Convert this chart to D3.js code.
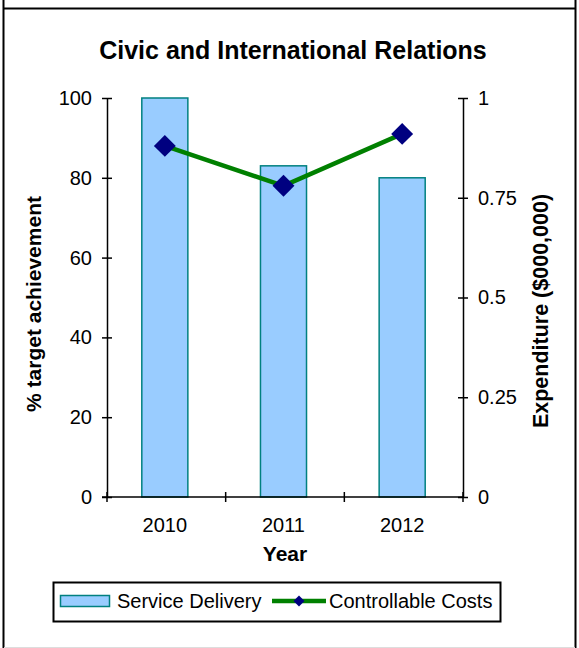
<!DOCTYPE html>
<html>
<head>
<meta charset="utf-8">
<script src="https://cdn.jsdelivr.net/npm/d3@7"></script>
<style>
  body { margin: 0; background: #fff; }
  text { font-family: "Liberation Sans", Arial, sans-serif; fill: #000; }
</style>
</head>
<body>
<div class="graph"></div>
<script>
// data
const years = ["2010", "2011", "2012"];
const serviceDelivery = [100, 83, 80];
const controllableCosts = [0.88, 0.78, 0.91];
const leftTicks = [0, 20, 40, 60, 80, 100];
const rightTicks = [0, 0.25, 0.5, 0.75, 1];

const SIZE = {X: 579, Y: 648};
const PLOT = {LEFT: 107, RIGHT: 463, TOP: 98, BOTTOM: 497};

const svg = d3.select(".graph").append("svg")
    .attr("width", SIZE.X)
    .attr("height", SIZE.Y);

// outer frame (bottom edge is cut off in the original, just a faint line)
const frame = svg.append("g").attr("stroke", "#000").attr("stroke-width", 2);
frame.append("line").attr("x1", 3.5).attr("x2", 3.5).attr("y1", 0).attr("y2", 648);
frame.append("line").attr("x1", 575.5).attr("x2", 575.5).attr("y1", 0).attr("y2", 648);
frame.append("line").attr("x1", 3.5).attr("x2", 575.5).attr("y1", 8.5).attr("y2", 8.5);
svg.append("line")
    .attr("x1", 4).attr("x2", 575).attr("y1", 647.5).attr("y2", 647.5)
    .attr("stroke", "#ddd").attr("stroke-width", 1);

// scales
const x = d3.scaleBand()
    .domain(years)
    .range([PLOT.LEFT - 1.5, PLOT.RIGHT - 1.5])
    .paddingInner(0.612)
    .paddingOuter(0.306);

const y = d3.scaleLinear().domain([0, 100]).range([PLOT.BOTTOM, PLOT.TOP]);
const y2 = d3.scaleLinear().domain([0, 1]).range([PLOT.BOTTOM, PLOT.TOP]);

// bars
svg.selectAll("rect.bar")
    .data(serviceDelivery)
    .enter()
    .append("rect")
    .attr("class", "bar")
    .attr("x", (d, i) => x(years[i]))
    .attr("y", d => y(d))
    .attr("width", x.bandwidth())
    .attr("height", d => y(0) - y(d))
    .attr("fill", "#99ccff")
    .attr("stroke", "#008080")
    .attr("stroke-width", 1.5);

// axes
const tickStyle = g => {
    g.select(".domain").attr("stroke", "#000").attr("stroke-width", 1.5);
    g.selectAll(".tick line").attr("stroke", "#000").attr("stroke-width", 1.5);
    g.selectAll(".tick text")
        .attr("font-size", 20)
        .attr("font-family", "Liberation Sans, Arial, sans-serif")
        .attr("fill", "#000");
};

const yAxis = svg.append("g")
    .attr("transform", `translate(${PLOT.LEFT},0)`)
    .call(d3.axisLeft(y).tickValues(leftTicks).tickSizeInner(5).tickSizeOuter(0).tickPadding(10))
    .call(tickStyle);
yAxis.selectAll(".tick line").attr("x1", 5).attr("x2", -5);

const y2Axis = svg.append("g")
    .attr("transform", `translate(${PLOT.RIGHT},0)`)
    .call(d3.axisRight(y2).tickValues(rightTicks).tickFormat(d => String(d)).tickSizeInner(5).tickSizeOuter(0).tickPadding(10))
    .call(tickStyle);
y2Axis.selectAll(".tick line").attr("x1", -5).attr("x2", 5);

// x axis: ticks at band boundaries
const step = (PLOT.RIGHT - PLOT.LEFT) / years.length;
const xBounds = d3.range(years.length + 1).map(i => PLOT.LEFT + i * step);
svg.append("line")
    .attr("x1", PLOT.LEFT - 5).attr("x2", PLOT.RIGHT)
    .attr("y1", PLOT.BOTTOM).attr("y2", PLOT.BOTTOM)
    .attr("stroke", "#000").attr("stroke-width", 1.5);
svg.selectAll("line.xtick")
    .data(xBounds)
    .enter()
    .append("line")
    .attr("class", "xtick")
    .attr("x1", d => d).attr("x2", d => d)
    .attr("y1", PLOT.BOTTOM - 5).attr("y2", PLOT.BOTTOM + 5)
    .attr("stroke", "#000").attr("stroke-width", 1.5);
svg.selectAll("text.xlabel")
    .data(years)
    .enter()
    .append("text")
    .attr("class", "xlabel")
    .attr("x", d => x(d) + x.bandwidth() / 2)
    .attr("y", 532)
    .attr("text-anchor", "middle")
    .attr("font-size", 20)
    .text(d => d);

// line series
const line = d3.line()
    .x((d, i) => x(years[i]) + x.bandwidth() / 2)
    .y(d => y2(d));

svg.append("path")
    .datum(controllableCosts)
    .attr("fill", "none")
    .attr("stroke", "#008000")
    .attr("stroke-width", 4.5)
    .attr("d", line);

const diamond = d3.symbol().type(d3.symbolSquare).size(240);
svg.selectAll("path.marker")
    .data(controllableCosts)
    .enter()
    .append("path")
    .attr("class", "marker")
    .attr("d", diamond)
    .attr("transform", (d, i) => `translate(${x(years[i]) + x.bandwidth() / 2},${y2(d)}) rotate(45)`)
    .attr("fill", "#000080");

// titles
svg.append("text")
    .attr("x", 293).attr("y", 59)
    .attr("text-anchor", "middle")
    .attr("font-size", 25)
    .attr("font-weight", "bold")
    .text("Civic and International Relations");

svg.append("text")
    .attr("x", 285).attr("y", 561)
    .attr("text-anchor", "middle")
    .attr("font-size", 21)
    .attr("font-weight", "bold")
    .text("Year");

svg.append("text")
    .attr("transform", "translate(41,304) rotate(-90)")
    .attr("text-anchor", "middle")
    .attr("font-size", 21)
    .attr("font-weight", "bold")
    .text("% target achievement");

svg.append("text")
    .attr("transform", "translate(548,311) rotate(-90)")
    .attr("text-anchor", "middle")
    .attr("font-size", 21.5)
    .attr("font-weight", "bold")
    .text("Expenditure ($000,000)");

// legend
const legend = svg.append("g");
legend.append("rect")
    .attr("x", 53.5).attr("y", 582.5)
    .attr("width", 447).attr("height", 39)
    .attr("fill", "#fff")
    .attr("stroke", "#000")
    .attr("stroke-width", 2);
legend.append("rect")
    .attr("x", 60.5).attr("y", 595.5)
    .attr("width", 49).attr("height", 11)
    .attr("fill", "#99ccff")
    .attr("stroke", "#008080")
    .attr("stroke-width", 1.5);
legend.append("text")
    .attr("x", 117).attr("y", 608)
    .attr("font-size", 20)
    .text("Service Delivery");
legend.append("line")
    .attr("x1", 272).attr("x2", 326)
    .attr("y1", 601).attr("y2", 601)
    .attr("stroke", "#008000")
    .attr("stroke-width", 4.5);
legend.append("path")
    .attr("d", d3.symbol().type(d3.symbolSquare).size(60))
    .attr("transform", "translate(299,601) rotate(45)")
    .attr("fill", "#000080");
legend.append("text")
    .attr("x", 329).attr("y", 608)
    .attr("font-size", 20)
    .text("Controllable Costs");
</script>
</body>
</html>
